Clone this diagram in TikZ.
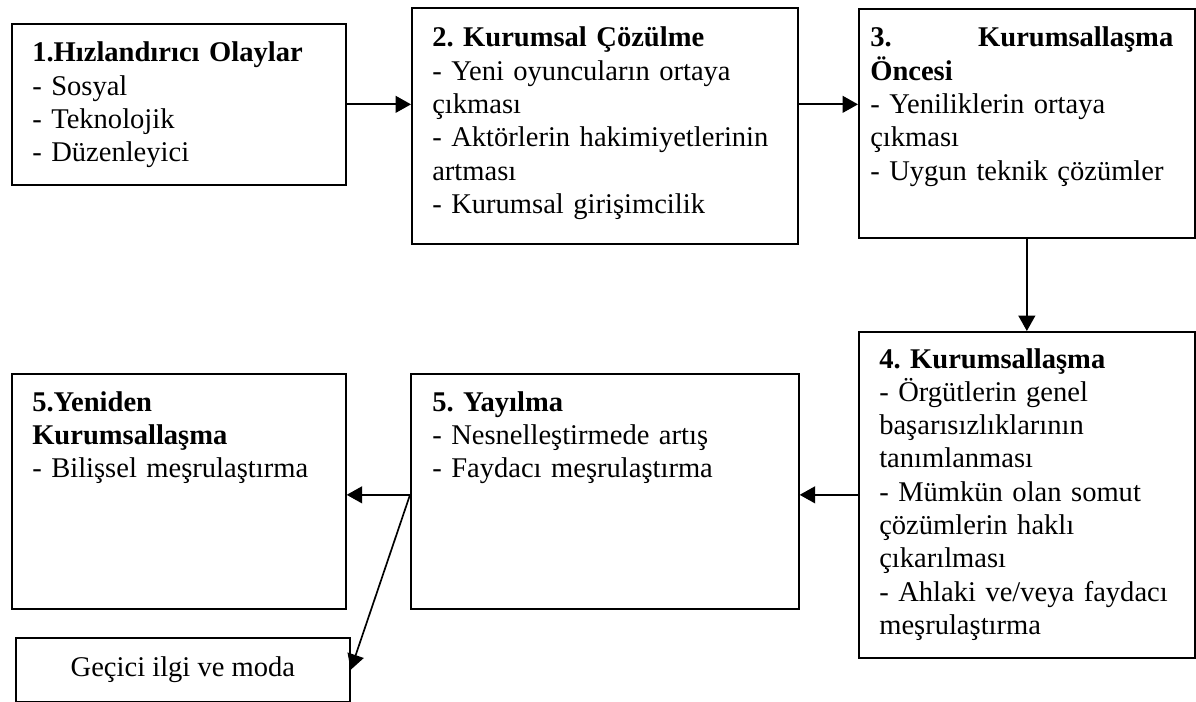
\documentclass[tikz,border=0pt]{standalone}
\usepackage{fontspec}
\setmainfont{Liberation Serif}
\usepackage{tikz}
\usetikzlibrary{calc,arrows.meta}
\newcommand{\boxcolor}{black}
\newcommand{\thickness}{1.2pt}
\newcommand{\px}{0.025cm}
\frenchspacing

\tikzset{
  stage/.style={draw=\boxcolor, line width=\thickness, anchor=north west, inner sep=0pt},
  stagetext/.style={anchor=base west, inner sep=0pt, align=left, font=\fontsize{20.3}{23.7}\selectfont},
  flow/.style={line width=\thickness, -{Triangle[length=11pt,width=12pt]}}
}

\begin{document}
\begin{tikzpicture}[x=\px, y=-\px]
\useasboundingbox (0,0) rectangle (1196,702);
%boxes
\node[stage, minimum width=334*\px, minimum height=161*\px] (1) at (11,23) {};
\node[stage, minimum width=386*\px, minimum height=236*\px] (2) at (411,7) {};
\node[stage, minimum width=336*\px, minimum height=229*\px] (3) at (858,8) {};
\node[stage, minimum width=336*\px, minimum height=326*\px] (4) at (858,331) {};
\node[stage, minimum width=388*\px, minimum height=235*\px] (5) at (410,373) {};
\node[stage, minimum width=334*\px, minimum height=235*\px] (6) at (11,373) {};
\node[stage, minimum width=334*\px, minimum height=64*\px, font=\fontsize{20.3}{23.7}\selectfont] (7) at (15,637) {Geçici ilgi ve moda};
%texts
\node[stagetext, text width=310*\px] (t1) at ($(1.north west)+(21,39)$)
  {\textbf{1.Hızlandırıcı Olaylar}\\- Sosyal\\- Teknolojik\\- Düzenleyici};
\node[stagetext, text width=360*\px] (t2) at ($(2.north west)+(21,40)$)
  {\textbf{2. Kurumsal Çözülme}\\- Yeni oyuncuların ortaya\\çıkması\\- Aktörlerin hakimiyetlerinin\\artması\\- Kurumsal girişimcilik};
\node[stagetext, text width=303*\px] (t3) at ($(3.north west)+(12,39)$)
  {\textbf{3.}\hfill\textbf{Kurumsallaşma}\\\textbf{Öncesi}\\- Yeniliklerin ortaya\\çıkması\\- Uygun teknik çözümler};
\node[stagetext, text width=310*\px] (t4) at ($(4.north west)+(21,37)$)
  {\textbf{4. Kurumsallaşma}\\- Örgütlerin genel\\başarısızlıklarının\\tanımlanması\\- Mümkün olan somut\\çözümlerin haklı\\çıkarılması\\- Ahlaki ve/veya faydacı\\meşrulaştırma};
\node[stagetext, text width=360*\px] (t5) at ($(5.north west)+(22,38)$)
  {\textbf{5. Yayılma}\\- Nesnelleştirmede artış\\- Faydacı meşrulaştırma};
\node[stagetext, text width=310*\px] (t6) at ($(6.north west)+(21,38)$)
  {\textbf{5.Yeniden}\\\textbf{Kurumsallaşma}\\- Bilişsel meşrulaştırma};
%arrows
\coordinate (split) at (5.west |- 4.west);
\draw[flow] (1.east) -- (1.east -| 2.west);
\draw[flow] (1.east -| 2.east) -- (1.east -| 3.west);
\draw[flow] (3.south) -- (4.north);
\draw[flow] (4.west) -- (4.west -| 5.east);
\draw[flow] (split) -- (split -| 6.east);
\draw[flow] (split) -- (7.east);
\end{tikzpicture}
\end{document}
